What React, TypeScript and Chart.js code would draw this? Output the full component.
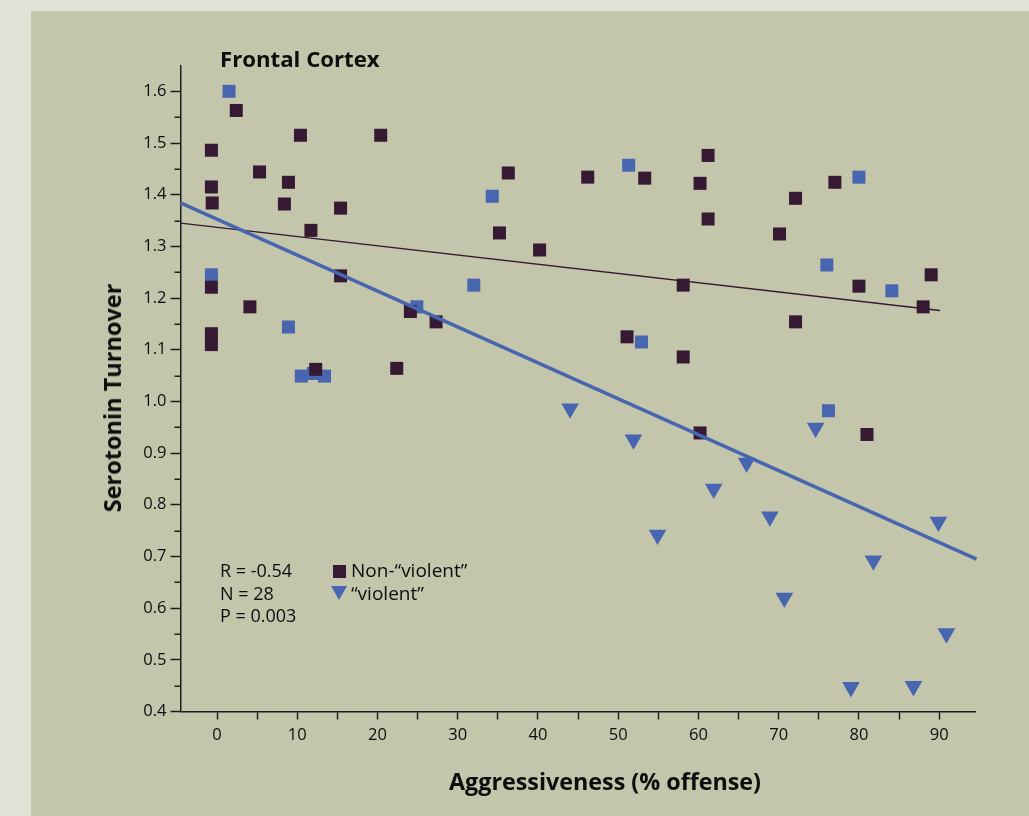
import React, { useEffect, useRef } from "react";
import { Chart, registerables } from "chart.js";

Chart.register(...registerables);

// ---------- data ----------
// Non-"violent" (dark squares)
const nonViolentX = [2.4, -0.7, 5.3, 10.4, 20.4, -0.7, -0.6, 8.9, 8.4, 15.4, 11.7, 15.4, -0.7, 4.1, -0.7, -0.7, 24.1, 27.3, 12.3, 22.4, 36.3, 35.2, 40.2, 46.2, 53.3, 61.2, 60.2, 61.2, 58.1, 51.1, 58.1, 72.1, 70.1, 77.0, 80.0, 89.0, 88.0, 72.1, 81.0, 60.2];
const nonViolentY = [1.563, 1.486, 1.444, 1.515, 1.515, 1.415, 1.384, 1.424, 1.382, 1.374, 1.331, 1.243, 1.221, 1.183, 1.131, 1.110, 1.174, 1.154, 1.062, 1.064, 1.442, 1.326, 1.293, 1.434, 1.432, 1.476, 1.422, 1.353, 1.225, 1.125, 1.086, 1.393, 1.324, 1.424, 1.223, 1.245, 1.183, 1.154, 0.936, 0.939];

// blue squares
const blueSquareX = [1.5, -0.7, 8.9, 10.5, 12.0, 13.4, 24.9, 32.0, 34.3, 51.3, 52.9, 80.0, 76.0, 84.1, 76.2];
const blueSquareY = [1.600, 1.245, 1.144, 1.049, 1.054, 1.049, 1.183, 1.225, 1.397, 1.457, 1.115, 1.434, 1.264, 1.214, 0.982];

// "violent" (blue triangles)
const violentX = [44.0, 51.9, 66.0, 61.9, 54.9, 68.9, 74.6, 70.7, 81.8, 89.9, 90.9, 79.0, 86.8];
const violentY = [0.986, 0.926, 0.881, 0.831, 0.742, 0.777, 0.949, 0.620, 0.692, 0.767, 0.551, 0.447, 0.449];

// regression lines
const fitAllX = [-4.55, 94.65];
const fitAllY = [1.384, 0.695];
const fitNonViolentX = [-4.55, 90.1];
const fitNonViolentY = [1.345, 1.176];

// axis ticks
const yMinorTicks = [0.45, 0.55, 0.65, 0.75, 0.85, 0.95, 1.05, 1.15, 1.25, 1.35, 1.45, 1.55];

const chartTitle = "Frontal Cortex";
const xAxisTitle = "Aggressiveness (% offense)";
const yAxisTitle = "Serotonin Turnover";
const statsLines = ["R = -0.54", "N = 28", "P = 0.003"];
const legendLabels = ["Non-\u201Cviolent\u201D", "\u201Cviolent\u201D"];

// ---------- styles ----------
const DARK = "#361932";
const BLUE = "#4866b0";
const AXIS = "#1e1e1e";
const TEXT = "#0d0d0d";
const PANEL = "#c3c6ab";
const OUTER = "#e2e3d8";
const FONT = "'Open Sans', 'Noto Sans', sans-serif";

const toPoints = (xs: number[], ys: number[]) => xs.map((x, i) => ({ x, y: ys[i] }));

const minorTickPlugin = {
  id: "minorTicks",
  afterDraw(chart: any) {
    const y = chart.scales.y;
    const ctx = chart.ctx;
    ctx.save();
    ctx.strokeStyle = AXIS;
    ctx.lineWidth = 1.5;
    for (const v of yMinorTicks) {
      const py = Math.round(y.getPixelForValue(v)) + 0.25;
      ctx.beginPath();
      ctx.moveTo(y.right - 6, py);
      ctx.lineTo(y.right, py);
      ctx.stroke();
    }
    ctx.restore();
  },
};

export default function App() {
  const ref = useRef<HTMLCanvasElement | null>(null);

  useEffect(() => {
    if (!ref.current) return;
    Chart.defaults.font.family = FONT;
    Chart.defaults.color = TEXT;
    const chart = new Chart(ref.current, {
      type: "scatter",
      data: {
        datasets: [
          {
            label: "\u201Cviolent\u201D",
            data: toPoints(violentX, violentY),
            pointStyle: "triangle",
            rotation: 180,
            pointRadius: 10.2,
            pointBorderWidth: 0,
            backgroundColor: BLUE,
            borderColor: BLUE,
            clip: false,
          } as any,
          {
            label: "fit all",
            data: toPoints(fitAllX, fitAllY),
            showLine: true,
            pointRadius: 0,
            borderColor: BLUE,
            borderWidth: 3.5,
            clip: false,
          } as any,
          {
            label: "fit non-violent",
            data: toPoints(fitNonViolentX, fitNonViolentY),
            showLine: true,
            pointRadius: 0,
            borderColor: DARK,
            borderWidth: 1.4,
            clip: false,
          } as any,
          {
            label: "Non-\u201Cviolent\u201D",
            data: toPoints(nonViolentX, nonViolentY),
            pointStyle: "rect",
            pointRadius: 9.2,
            pointBorderWidth: 0,
            backgroundColor: DARK,
            borderColor: DARK,
            clip: false,
          } as any,
          {
            label: "blue squares",
            data: toPoints(blueSquareX, blueSquareY),
            pointStyle: "rect",
            pointRadius: 9.2,
            pointBorderWidth: 0,
            backgroundColor: BLUE,
            borderColor: BLUE,
            clip: false,
          } as any,
        ],
      },
      options: {
        responsive: false,
        animation: false,
        events: [],
        layout: { padding: { top: 65.5, right: 53.3, left: 0, bottom: 0 } },
        plugins: { legend: { display: false }, tooltip: { enabled: false }, title: { display: false } },
        scales: {
          x: {
            type: "linear",
            min: -4.55,
            max: 94.55,
            afterFit: (s: any) => {
              s.height = 104.5;
            },
            border: { display: true, color: AXIS, width: 1.5 },
            grid: { display: true, drawOnChartArea: false, tickLength: 8, tickColor: AXIS, tickWidth: 1.5 },
            ticks: {
              stepSize: 5,
              includeBounds: false,
              autoSkip: false,
              maxRotation: 0,
              padding: 5.5,
              color: TEXT,
              font: { size: 16.5 },
              callback: (v: any) => (Math.round(v) % 10 === 0 ? String(Math.round(v)) : ""),
            },
            title: { display: false },
          },
          y: {
            type: "linear",
            min: 0.4,
            max: 1.65,
            afterFit: (s: any) => {
              s.width = 180.5;
            },
            border: { display: true, color: AXIS, width: 1.5 },
            grid: { display: true, drawOnChartArea: false, tickLength: 10, tickColor: AXIS, tickWidth: 1.5 },
            ticks: {
              stepSize: 0.1,
              includeBounds: false,
              autoSkip: false,
              padding: 4,
              color: TEXT,
              font: { size: 16.5 },
              callback: (v: any) => Number(v).toFixed(1),
            },
            title: { display: false },
          },
        },
      } as any,
      plugins: [minorTickPlugin],
    });
    return () => chart.destroy();
  }, []);

  return (
    <div style={{ position: "fixed", left: 0, top: 0, width: 1029, height: 816, background: OUTER, overflow: "hidden", fontFamily: FONT, color: TEXT }}>
      <div style={{ position: "absolute", left: 31, top: 11, right: 0, bottom: 0, background: PANEL }} />
      <canvas ref={ref} width={1029} height={816} style={{ position: "absolute", left: 0, top: 0, width: 1029, height: 816 }} />
      <div style={{ position: "absolute", left: 220, top: 46, fontSize: 22.2, fontWeight: 700, lineHeight: "26px", whiteSpace: "nowrap" }}>
        {chartTitle}
      </div>
      <div style={{ position: "absolute", left: 405, width: 400, top: 767, textAlign: "center", fontSize: 23.3, fontWeight: 700, lineHeight: "28px", whiteSpace: "nowrap" }}>
        {xAxisTitle}
      </div>
      <div
        style={{
          position: "absolute",
          left: 112,
          top: 398,
          transform: "translate(-50%, -50%) rotate(-90deg)",
          fontSize: 23.5,
          fontWeight: 700,
          lineHeight: "28px",
          whiteSpace: "nowrap",
        }}
      >
        {yAxisTitle}
      </div>
      <div style={{ position: "absolute", left: 220, top: 559, fontSize: 18, lineHeight: "22.5px", whiteSpace: "nowrap" }}>
        {statsLines.map((s) => (
          <div key={s}>{s}</div>
        ))}
      </div>
      <div style={{ position: "absolute", left: 333, top: 565, width: 12.5, height: 12.5, background: DARK }} />
      <div
        style={{
          position: "absolute",
          left: 331,
          top: 586,
          width: 0,
          height: 0,
          borderLeft: "8.5px solid transparent",
          borderRight: "8.5px solid transparent",
          borderTop: `14px solid ${BLUE}`,
        }}
      />
      <div style={{ position: "absolute", left: 351, top: 559, fontSize: 19, lineHeight: "22.5px", whiteSpace: "nowrap" }}>
        {legendLabels.map((s) => (
          <div key={s}>{s}</div>
        ))}
      </div>
    </div>
  );
}
